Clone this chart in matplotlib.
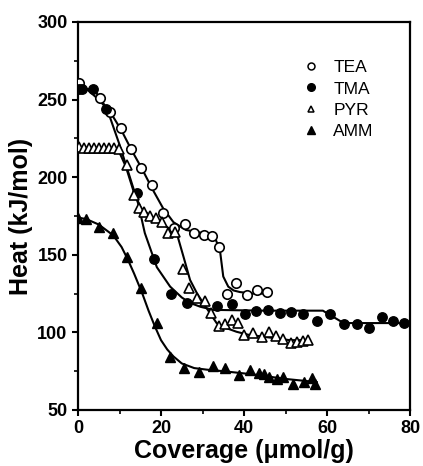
import matplotlib.pyplot as plt
from matplotlib.lines import Line2D

plt.rcParams['font.family'] = ['Liberation Sans', 'DejaVu Sans']

tea_x = [0.3, 5.3, 7.7, 10.3, 12.7, 15.2, 17.8, 20.6, 23.2, 25.8, 27.9, 30.3,
         32.4, 34.0, 35.8, 38.1, 40.7, 43.2, 45.5]
tea_y = [261, 251, 242, 232, 218, 206, 195, 177, 167, 170, 164, 163,
         162, 155, 125, 132, 124, 127, 126]

tma_x = [0.3, 1.0, 3.7, 6.8, 14.1, 18.2, 22.4, 26.3, 33.4, 37.1, 40.2, 43.0,
         45.9, 48.7, 51.3, 54.3, 57.5, 60.6, 64.1, 67.2, 70.1, 73.2, 76.0, 78.6]
tma_y = [257, 257, 257, 244, 190, 147, 125, 119, 117, 118.5, 112, 113.5,
         114.4, 112.3, 113, 112, 107.5, 112, 105.4, 105.4, 102.6, 109.7, 107.5, 106]

pyr_x = [0.2, 1.4, 2.6, 3.8, 5.0, 6.2, 7.4, 8.6, 9.8, 11.7, 13.6, 14.8, 15.9,
         17.3, 18.7, 20.2, 21.7, 23.4, 25.3, 26.8, 28.7, 30.5, 32.0, 34.0, 35.3,
         37.0, 38.5, 40.0, 42.2, 44.3, 46.0, 47.7, 49.3, 51.3, 52.7, 54.1, 55.5]
pyr_y = [219.5, 219, 219, 219, 218.5, 218.5, 218.5, 218.5, 218, 208, 188.5, 180,
         177.8, 175, 173.5, 171.3, 164, 165, 141, 128.5, 122, 120, 112.3, 104,
         105.4, 108, 106, 98.5, 99.8, 97.2, 100.4, 97.7, 95.5, 93.4, 94, 94.6, 95]

amm_x = [0.1, 2.0, 5.1, 8.5, 11.7, 15.3, 19.0, 22.2, 25.6, 29.2, 32.5, 35.5,
         38.7, 41.5, 43.7, 44.8, 46.1, 47.9, 49.5, 51.9, 54.5, 56.3, 57.1]
amm_y = [174, 173, 168, 164, 148.5, 128.5, 106, 84, 77, 74.7, 78.5, 77.2,
         72.8, 75.8, 73.6, 73.2, 71.5, 69.8, 71.5, 66.8, 68.3, 70.4, 66.8]

# hand-drawn guide curves
tea_cx = [0, 2, 5, 8, 10.5, 13, 15.5, 18, 20.5, 23, 26, 30, 33, 34.2, 35,
          36.2, 37.5, 39, 42, 46.3]
tea_cy = [260, 257, 250, 241, 230, 217, 205, 192, 180, 171, 166, 164, 161,
          153, 136, 129.5, 127, 126, 125, 125]

tma_cx = [0, 2, 4, 7, 10, 12.5, 14.5, 16.1, 19, 22.2, 25, 27, 29.5, 32.6,
          45, 59, 61.5, 64, 70, 80]
tma_cy = [257, 257, 256, 244, 221, 200, 183, 164, 142, 129.5, 122.5, 119, 116.5,
          114.5, 114, 114, 110, 106, 106, 106]

pyr_cx = [0, 4, 8, 9.8, 11.5, 13.5, 15.2, 17.5, 20, 22.5, 23.8, 25.5, 27,
          28.7, 30.2, 33.4, 35.5, 38.2, 41, 44.7, 51, 55.9]
pyr_cy = [219, 219, 218.5, 217, 207, 190, 180, 175, 170.5, 166, 163.8, 148,
          133.8, 125, 118.8, 106, 103, 100.4, 98.5, 97.2, 95, 95]

amm_cx = [0, 2, 5, 8.5, 10.5, 12, 13.5, 15.5, 17, 18.5, 20, 21.5, 23, 25, 28,
          31, 35, 42, 50, 57.5]
amm_cy = [174, 173, 169.5, 162.5, 155, 147, 138, 125, 114, 104, 95, 89, 84.5,
          80, 77, 76, 75, 73, 70, 68]

fig = plt.figure(figsize=(4.23, 4.66), dpi=100)
ax = fig.add_axes([0.1844, 0.1202, 0.7849, 0.8326])

lw = 1.5
for cx, cy in [(tea_cx, tea_cy), (tma_cx, tma_cy), (pyr_cx, pyr_cy), (amm_cx, amm_cy)]:
    ax.plot(cx, cy, color='black', lw=lw, zorder=2)

ms = 6.8
ax.plot(tea_x, tea_y, 'o', ms=ms, mfc='white', mec='black', mew=1.2, ls='none', zorder=3)
ax.plot(tma_x, tma_y, 'o', ms=ms, mfc='black', mec='black', ls='none', zorder=3)
ax.plot(pyr_x, pyr_y, '^', ms=ms, mfc='white', mec='black', mew=1.2, ls='none', zorder=3)
ax.plot(amm_x, amm_y, '^', ms=ms, mfc='black', mec='black', ls='none', zorder=3)

handles = [
    Line2D([], [], marker='o', ls='none', ms=5, mfc='white', mec='black', mew=1.1),
    Line2D([], [], marker='o', ls='none', ms=5.5, mfc='black', mec='black'),
    Line2D([], [], marker='^', ls='none', ms=5, mfc='white', mec='black', mew=1.1),
    Line2D([], [], marker='^', ls='none', ms=5.5, mfc='black', mec='black'),
]
ax.legend(handles, ['TEA', 'TMA', 'PYR', 'AMM'], loc='upper left',
          bbox_to_anchor=(0.68, 0.902), frameon=False, fontsize=12.5,
          handlelength=0.8, handletextpad=0.9, labelspacing=0.36,
          borderaxespad=0, borderpad=0)

ax.set_xlim(0, 80)
ax.set_ylim(50, 300)
ax.set_xticks([0, 20, 40, 60, 80])
ax.set_xticks([10, 30, 50, 70], minor=True)
ax.set_yticks([50, 100, 150, 200, 250, 300])
ax.set_yticks([75, 125, 175, 225, 275], minor=True)
ax.tick_params(which='major', direction='out', length=4, width=1.5,
               labelsize=13)
ax.tick_params(which='minor', direction='out', length=3, width=1.2)
for lab in ax.get_xticklabels() + ax.get_yticklabels():
    lab.set_fontweight('bold')
for s in ax.spines.values():
    s.set_linewidth(1.6)

ax.set_xlabel('Coverage (\u03bcmol/g)', fontsize=18, fontweight='bold', labelpad=1)
ax.set_ylabel('Heat (kJ/mol)', fontsize=18, fontweight='bold', labelpad=3)

fig.savefig('out.png', dpi=100)
